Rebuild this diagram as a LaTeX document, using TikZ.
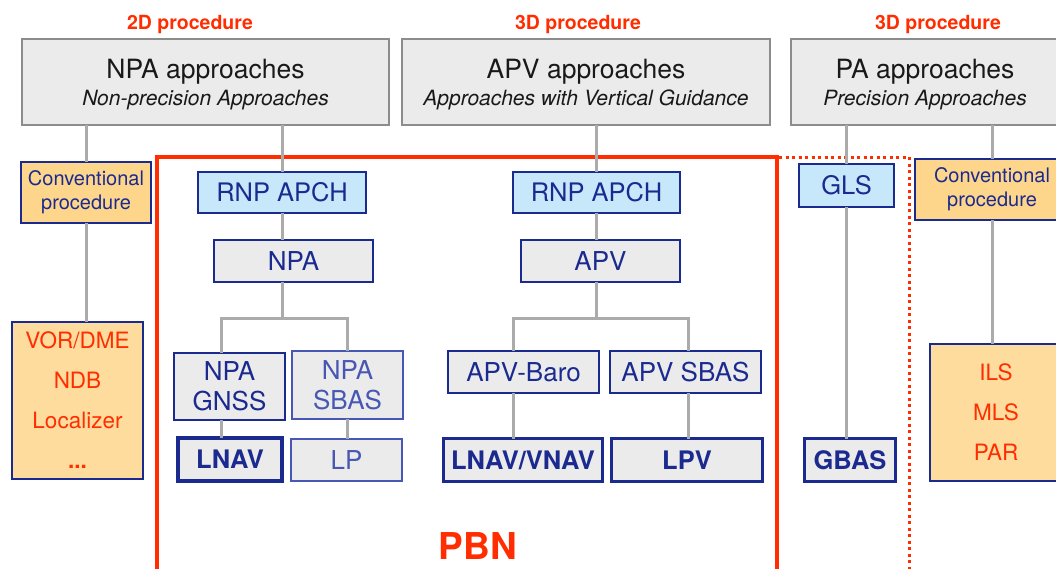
\documentclass[tikz,border=0pt]{standalone}
\usepackage{fontspec}
\setmainfont{TeX Gyre Heros}
\definecolor{hdrfill}{HTML}{EBEBEB}
\definecolor{hdrline}{HTML}{8C8C8C}
\definecolor{navy}{HTML}{1B2A8F}
\definecolor{softnavy}{HTML}{4757B3}
\definecolor{orangefill}{HTML}{FDD68C}
\definecolor{bluefill}{HTML}{C7E7FB}
\definecolor{linkgray}{HTML}{ABABAB}
\definecolor{pbnred}{HTML}{FF2D00}

\begin{document}
\begin{tikzpicture}[x=1pt,y=-1pt,outer sep=0pt,
  hdr/.style={draw=hdrline,fill=hdrfill,line width=2pt,minimum height=86,align=center,text=black!90},
  proc/.style={font=\fontsize{19.5}{22}\selectfont\bfseries,text=pbnred},
  conv/.style={draw=navy,fill=orangefill,line width=2pt,align=center,text=navy,font=\fontsize{20}{24}\selectfont},
  navaid/.style={draw=navy,fill=orangefill!85,line width=2pt,align=center,text=pbnred,font=\fontsize{22.5}{40}\selectfont},
  spec/.style={draw=navy,fill=bluefill,line width=2pt,text=navy,font=\fontsize{25.5}{28}\selectfont},
  type/.style={draw=navy,fill=hdrfill,line width=2pt,align=center,text=navy,font=\fontsize{26}{30}\selectfont},
  soft/.style={type,draw=softnavy,text=softnavy},
  sensor/.style={draw=navy,fill=hdrfill,line width=3.5pt,text=navy,font=\fontsize{25.5}{28}\selectfont\bfseries},
  link/.style={draw=linkgray,line width=3pt}]

  \useasboundingbox (0,0) rectangle (1056,568);
  \clip (0,0) rectangle (1056,568);

  \node[proc] (p2d) at (190,25) {2D procedure};
  \node[proc] (p3da) at (578,25) {3D procedure};
  \node[proc] (p3db) at (938,25) {3D procedure};

  \node[hdr,minimum width=367] (npah) at (205.5,82) {{\fontsize{26.5}{30}\selectfont\rule{0pt}{25pt}NPA approaches}\\[5pt]{\fontsize{21}{24}\selectfont\itshape Non-precision Approaches}};
  \node[hdr,minimum width=368] (apvh) at (586,82) {{\fontsize{26.5}{30}\selectfont\rule{0pt}{25pt}APV approaches}\\[5pt]{\fontsize{21}{24}\selectfont\itshape Approaches with Vertical Guidance}};
  \node[hdr,minimum width=268] (pah) at (925,82) {{\fontsize{26.5}{30}\selectfont\rule{0pt}{25pt}PA approaches}\\[5pt]{\fontsize{21}{24}\selectfont\itshape Precision Approaches}};

  \draw[pbnred,line width=4pt] (157,580) -- (157,157) -- (777,157) -- (777,580);
  \draw[pbnred,line width=3pt,dash pattern=on 3pt off 3.5pt] (779,157) -- (909,157) -- (909,580);
  \node[font=\fontsize{37}{40}\selectfont\bfseries,text=pbnred] (pbn) at (478,546) {PBN};

  \node[conv,minimum width=130,minimum height=61] (convl) at (86,192.5) {Conventional\\procedure};
  \node[navaid,minimum width=131,minimum height=157] (vor) at (77.5,400.5) {VOR/DME\\NDB\\Localizer\\\textbf{...}};

  \node[spec,minimum width=168,minimum height=41] (rnpl) at (282,192.5) {RNP APCH};
  \node[type,minimum width=159,minimum height=42] (npa) at (293.5,261) {NPA};
  \node[type,minimum width=111,minimum height=67] (gnss) at (229.5,386.5) {NPA\\GNSS};
  \node[soft,line width=1.5pt,minimum width=111,minimum height=68] (sbas) at (347.5,385) {NPA\\SBAS};
  \node[sensor,minimum width=104,minimum height=43] (lnav) at (230,459.5) {LNAV};
  \node[soft,line width=1.5pt,minimum width=111,minimum height=42] (lp) at (346.5,460) {LP};

  \node[spec,minimum width=167,minimum height=41] (rnpr) at (596.5,192.5) {RNP APCH};
  \node[type,minimum width=159,minimum height=42] (apv) at (600.5,261) {APV};
  \node[type,minimum width=151,minimum height=42] (baro) at (523.5,372) {APV-Baro};
  \node[type,minimum width=151,minimum height=42] (asbas) at (685.5,372) {APV SBAS};
  \node[sensor,minimum width=159,minimum height=43] (lnvn) at (523,460) {LNAV/VNAV};
  \node[sensor,minimum width=151,minimum height=43] (lpv) at (687,460) {LPV};

  \node[spec,minimum width=95,minimum height=43] (gls) at (846.5,185.5) {GLS};
  \node[sensor,minimum width=91,minimum height=43] (gbas) at (850,460) {GBAS};
  \node[conv,minimum width=154,minimum height=61] (convr) at (992,189.5) {Conventional\\procedure};
  \node[navaid,minimum width=132,minimum height=137] (ils) at (996,412.5) {ILS\\MLS\\PAR};

  \coordinate (fa) at (221,318);
  \coordinate (fb) at (347,318);
  \coordinate (fc) at (513,318);
  \coordinate (fd) at (688,318);

  \path[link]
    (convl.north) edge (convl.north |- npah.south)
    (convl.south) edge (convl.south |- vor.north)
    (rnpl.north) edge (rnpl.north |- npah.south)
    (rnpl.south) edge (rnpl.south |- npa.north)
    (npa.south -| rnpl.south) edge (rnpl.south |- fa)
    (rnpr.north) edge (rnpr.north |- apvh.south)
    (rnpr.south) edge (rnpr.south |- apv.north)
    (apv.south -| rnpr.south) edge (rnpr.south |- fc)
    (gls.north) edge (gls.north |- pah.south)
    (gls.south) edge (gls.south |- gbas.north)
    (convr.north) edge (convr.north |- pah.south)
    (convr.south) edge (convr.south |- ils.north);

  \draw[link] (fa |- gnss.north) -- (fa) -- (fb) -- (fb |- sbas.north);
  \draw[link] (fc |- baro.north) -- (fc) -- (fd) -- (fd |- asbas.north);
  \draw[link] (gnss.south -| fa) -- (fa |- lnav.north);
  \draw[link] (sbas.south -| fb) -- (fb |- lp.north);
  \draw[link] (baro.south -| fc) -- (fc |- lnvn.north);
  \draw[link] (asbas.south -| fd) -- (fd |- lpv.north);
\end{tikzpicture}
\end{document}
